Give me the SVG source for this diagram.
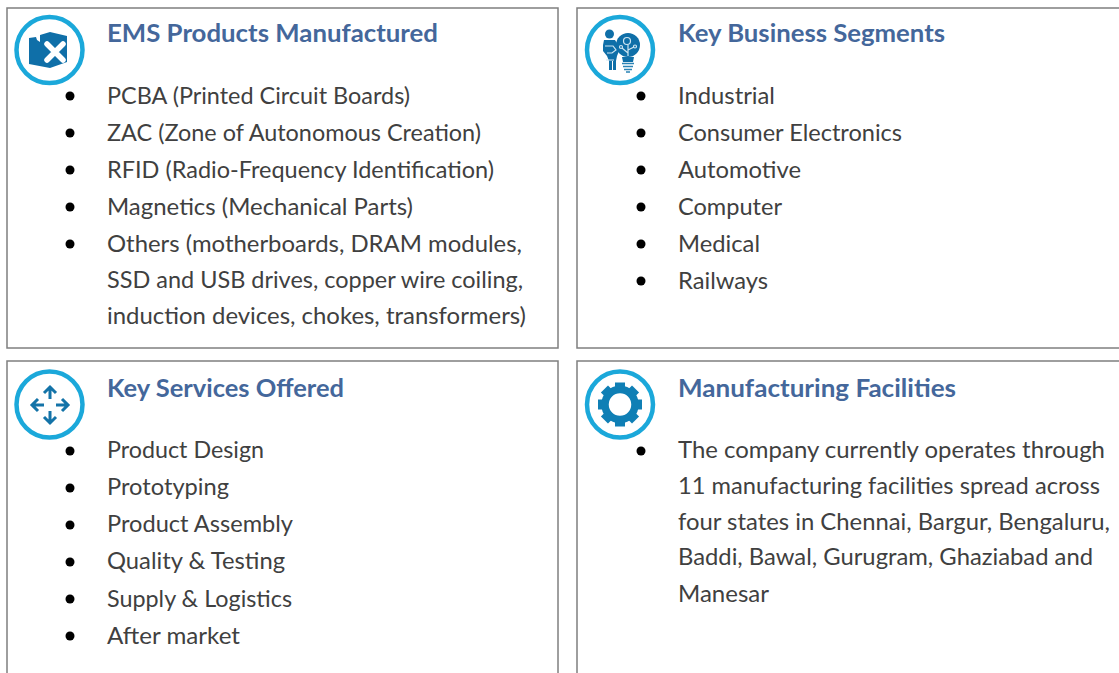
<svg xmlns="http://www.w3.org/2000/svg" width="1119" height="673" viewBox="0 0 1119 673">
<style>
.p{fill:#fff;stroke:#7f7f7f;stroke-width:1.5}
.r{fill:none;stroke:#1ba8da;stroke-width:4.5}
.t{font-family:Lato,"Liberation Sans",sans-serif;font-size:23.5px;fill:#404040}
.h{font-family:Lato,"Liberation Sans",sans-serif;font-size:25px;font-weight:700;fill:#44679b}
.i{fill:#0f6fa8}
.a{fill:none;stroke:#1373a8;stroke-width:3}
.w{fill:none;stroke:#cfe6f2;stroke-width:1.200}
</style>
<rect width="1119" height="673" fill="#fff"/>
<g id="panel-ems">
<rect class="p" x="7" y="8" width="551" height="340"/>
<circle class="r" cx="49.500" cy="50" r="33"/>
<path class="i" d="M29 38l7-1 1 3 3 2v-7l10-3 17 4v26l-17 6-21-4z"/>
<path d="M47 44L63 60M63 44L47 60" stroke="#fff" stroke-width="5.500" stroke-linecap="round"/>
<text class="h" x="107" y="42" textLength="331" lengthAdjust="spacingAndGlyphs">EMS Products Manufactured</text>
<g fill="#000"><circle cx="70" cy="96" r="4.500"/><circle cx="70" cy="133" r="4.500"/><circle cx="70" cy="170" r="4.500"/><circle cx="70" cy="207" r="4.500"/><circle cx="70" cy="244" r="4.500"/></g>
<text class="t" x="107" y="104" textLength="303" lengthAdjust="spacingAndGlyphs">PCBA (Printed Circuit Boards)</text>
<text class="t" x="107" y="141" textLength="374" lengthAdjust="spacingAndGlyphs">ZAC (Zone of Autonomous Creation)</text>
<text class="t" x="107" y="178" textLength="387" lengthAdjust="spacingAndGlyphs">RFID (Radio-Frequency Identification)</text>
<text class="t" x="107" y="215" textLength="306" lengthAdjust="spacingAndGlyphs">Magnetics (Mechanical Parts)</text>
<text class="t" x="107" y="252" textLength="415" lengthAdjust="spacingAndGlyphs">Others (motherboards, DRAM modules,</text>
<text class="t" x="107" y="288" textLength="416" lengthAdjust="spacingAndGlyphs">SSD and USB drives, copper wire coiling,</text>
<text class="t" x="107" y="324" textLength="419" lengthAdjust="spacingAndGlyphs">induction devices, chokes, transformers)</text>
</g>
<g id="panel-segments">
<rect class="p" x="577" y="8" width="560" height="340"/>
<circle class="r" cx="620" cy="50" r="33"/>
<circle class="i" cx="609.500" cy="34" r="4.500"/>
<path class="i" d="M604 40h11l3 5 1 6-2 5-1 5v9h-3v-9h-1v9h-3v-9l-2-5-4-5v-6z"/>
<path class="w" d="M605 46h8l3 4-4 3h-5M606 60h8"/>
<circle class="i" cx="628" cy="45" r="12"/>
<path class="i" d="M622 57h12l-1 5h-10z"/>
<path d="M622 63.500h12M623 66.500h10M624 69.500h8M626 72h4" stroke="#2a83b5" stroke-width="1.600"/>
<circle class="w" cx="627" cy="41" r="3.500"/>
<path class="w" d="M628 45v11M628 53l-6-5M628 50l6-3"/>
<circle class="w" cx="621" cy="47" r="1.500"/><circle class="w" cx="635" cy="46.500" r="1.500"/>
<text class="h" x="678" y="42" textLength="267" lengthAdjust="spacingAndGlyphs">Key Business Segments</text>
<g fill="#000"><circle cx="641" cy="96" r="4.500"/><circle cx="641" cy="133" r="4.500"/><circle cx="641" cy="170" r="4.500"/><circle cx="641" cy="207" r="4.500"/><circle cx="641" cy="244" r="4.500"/><circle cx="641" cy="281" r="4.500"/></g>
<text class="t" x="678" y="104" textLength="97" lengthAdjust="spacingAndGlyphs">Industrial</text>
<text class="t" x="678" y="141" textLength="224" lengthAdjust="spacingAndGlyphs">Consumer Electronics</text>
<text class="t" x="678" y="178" textLength="123" lengthAdjust="spacingAndGlyphs">Automotive</text>
<text class="t" x="678" y="215" textLength="104" lengthAdjust="spacingAndGlyphs">Computer</text>
<text class="t" x="678" y="252" textLength="82" lengthAdjust="spacingAndGlyphs">Medical</text>
<text class="t" x="678" y="289" textLength="90" lengthAdjust="spacingAndGlyphs">Railways</text>
</g>
<g id="panel-services">
<rect class="p" x="7" y="361" width="551" height="340"/>
<circle class="r" cx="49.500" cy="404.500" r="33"/>
<path class="a" d="M50 388v11M50 411v11M33 405h11M56 405h12M44 393l6-6 6 6M44 417l6 6 6-6M38 399l-6 6 6 6M62 399l6 6-6 6"/>
<text class="h" x="107" y="397" textLength="237" lengthAdjust="spacingAndGlyphs">Key Services Offered</text>
<g fill="#000"><circle cx="70" cy="451" r="4.500"/><circle cx="70" cy="488" r="4.500"/><circle cx="70" cy="525" r="4.500"/><circle cx="70" cy="562" r="4.500"/><circle cx="70" cy="599" r="4.500"/><circle cx="70" cy="636" r="4.500"/></g>
<text class="t" x="107" y="458" textLength="157" lengthAdjust="spacingAndGlyphs">Product Design</text>
<text class="t" x="107" y="495" textLength="122" lengthAdjust="spacingAndGlyphs">Prototyping</text>
<text class="t" x="107" y="532" textLength="186" lengthAdjust="spacingAndGlyphs">Product Assembly</text>
<text class="t" x="107" y="569" textLength="178" lengthAdjust="spacingAndGlyphs">Quality &amp; Testing</text>
<text class="t" x="107" y="607" textLength="185" lengthAdjust="spacingAndGlyphs">Supply &amp; Logistics</text>
<text class="t" x="107" y="644" textLength="133" lengthAdjust="spacingAndGlyphs">After market</text>
</g>
<g id="panel-facilities">
<rect class="p" x="577" y="361" width="560" height="340"/>
<circle class="r" cx="620" cy="404.500" r="33"/>
<circle cx="620" cy="404.500" r="15" fill="none" stroke="#0f7fb5" stroke-width="7.500"/>
<g fill="#0f7fb5"><rect x="615" y="382.500" width="10" height="6"/><rect x="615" y="382.500" width="10" height="6" transform="rotate(45 620 404.500)"/><rect x="615" y="382.500" width="10" height="6" transform="rotate(90 620 404.500)"/><rect x="615" y="382.500" width="10" height="6" transform="rotate(135 620 404.500)"/><rect x="615" y="382.500" width="10" height="6" transform="rotate(180 620 404.500)"/><rect x="615" y="382.500" width="10" height="6" transform="rotate(225 620 404.500)"/><rect x="615" y="382.500" width="10" height="6" transform="rotate(270 620 404.500)"/><rect x="615" y="382.500" width="10" height="6" transform="rotate(315 620 404.500)"/></g>
<text class="h" x="678" y="397" textLength="278" lengthAdjust="spacingAndGlyphs">Manufacturing Facilities</text>
<circle cx="641" cy="451" r="4.500" fill="#000"/>
<text class="t" x="678" y="458" textLength="427" lengthAdjust="spacingAndGlyphs">The company currently operates through</text>
<text class="t" x="678" y="494" textLength="422" lengthAdjust="spacingAndGlyphs">11 manufacturing facilities spread across</text>
<text class="t" x="678" y="530" textLength="432" lengthAdjust="spacingAndGlyphs">four states in Chennai, Bargur, Bengaluru,</text>
<text class="t" x="678" y="565" textLength="415" lengthAdjust="spacingAndGlyphs">Baddi, Bawal, Gurugram, Ghaziabad and</text>
<text class="t" x="678" y="602" textLength="91" lengthAdjust="spacingAndGlyphs">Manesar</text>
</g>
</svg>
